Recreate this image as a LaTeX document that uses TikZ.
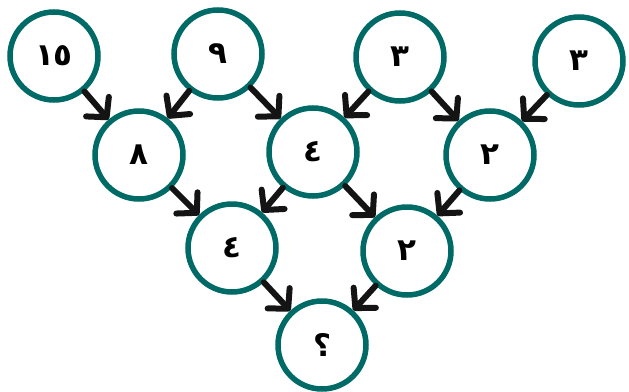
\documentclass[tikz,border=0pt]{standalone}
\usepackage{fontspec}
\newfontfamily\arabicfont[Script=Arabic]{DejaVu Sans}
\usetikzlibrary{arrows.meta}
\definecolor{ringcol}{RGB}{0,106,102}
\definecolor{arrcol}{RGB}{20,20,20}
\begin{document}
\begin{tikzpicture}[x=1pt,y=-1pt,
  num/.style={circle, draw=ringcol, line width=5.5pt, minimum size=88pt, inner sep=0pt,
    font=\arabicfont\bfseries\fontsize{31}{31}\selectfont},
  arr/.style={draw=arrcol, line width=6pt, line cap=round,
    -{Straight Barb[length=14pt,width=30pt,line cap=round,line join=round]}}]
\useasboundingbox (0,0) rectangle (629,391);
\node[num] (a1) at (54,56) {١٥};
\node[num] (a2) at (218,54) {٩};
\node[num] (a3) at (400,57) {٣};
\node[num] (a4) at (579,61) {٣};
\node[num] (b1) at (139,155) {٨};
\node[num] (b2) at (313,152) {٤};
\node[num] (b3) at (490,155) {٢};
\node[num] (c1) at (232,248) {٤};
\node[num] (c2) at (407,251) {٢};
\node[num] (d1) at (322,345) {؟};
\draw[arr] (a1) -- (b1);
\draw[arr] (a2) -- (b1);
\draw[arr] (a2) -- (b2);
\draw[arr] (a3) -- (b2);
\draw[arr] (a3) -- (b3);
\draw[arr] (a4) -- (b3);
\draw[arr] (b1) -- (c1);
\draw[arr] (b2) -- (c1);
\draw[arr] (b2) -- (c2);
\draw[arr] (b3) -- (c2);
\draw[arr] (c1) -- (d1);
\draw[arr] (c2) -- (d1);
\end{tikzpicture}
\end{document}
